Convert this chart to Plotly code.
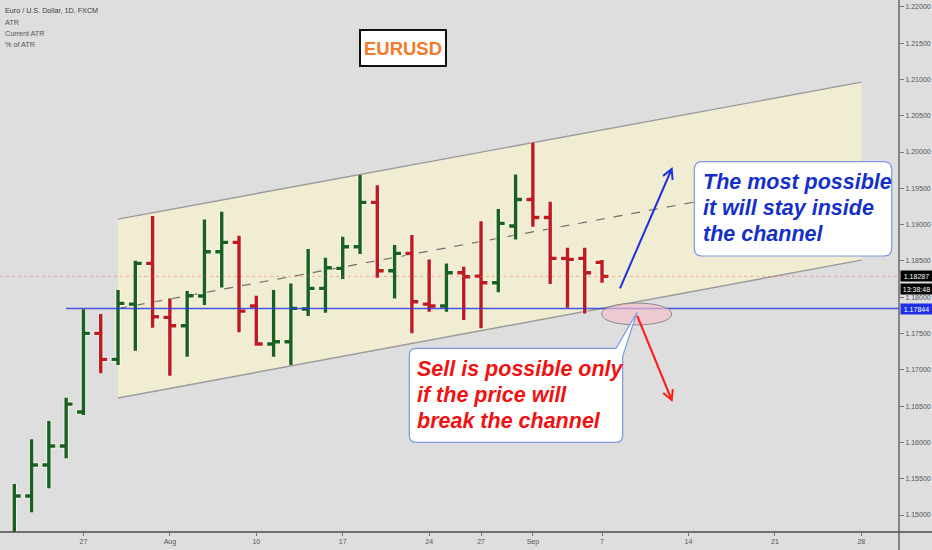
import math
import numpy as np
import plotly.graph_objects as go

# ---------------- data ----------------
dates = ["2020-07-21", "2020-07-22", "2020-07-23", "2020-07-24",
         "2020-07-27", "2020-07-28", "2020-07-29", "2020-07-30", "2020-07-31",
         "2020-08-03", "2020-08-04", "2020-08-05", "2020-08-06", "2020-08-07",
         "2020-08-10", "2020-08-11", "2020-08-12", "2020-08-13", "2020-08-14",
         "2020-08-17", "2020-08-18", "2020-08-19", "2020-08-20", "2020-08-21",
         "2020-08-24", "2020-08-25", "2020-08-26", "2020-08-27", "2020-08-28",
         "2020-08-31", "2020-09-01", "2020-09-02", "2020-09-03", "2020-09-04",
         "2020-09-07"]
opens = [1.14700, 1.15262, 1.15689, 1.15950,
         1.16418, 1.17502, 1.17144, 1.17905, 1.18466,
         1.17722, 1.17607, 1.18016, 1.18626, 1.18755,
         1.17878, 1.17355, 1.17386, 1.17837, 1.18122,
         1.18397, 1.18695, 1.19306, 1.18364, 1.18604,
         1.17905, 1.17878, 1.18337, 1.18291, 1.18199,
         1.18980, 1.19347, 1.19099, 1.18535, 1.18535,
         1.18480]
highs = [1.15427, 1.16042, 1.16294, 1.16615,
         1.17833, 1.17768, 1.18098, 1.18502, 1.19117,
         1.17984, 1.18085, 1.19072, 1.19177, 1.18846,
         1.18020, 1.18098, 1.18190, 1.18663, 1.18543,
         1.18832, 1.19682, 1.19544, 1.18718, 1.18856,
         1.18521, 1.18466, 1.18419, 1.19048, 1.19214,
         1.19691, 1.20132, 1.19314, 1.18681, 1.18681,
         1.18511]
lows = [1.14600, 1.15037, 1.15368, 1.15781,
        1.16377, 1.16951, 1.17066, 1.17262, 1.17579,
        1.16918, 1.17180, 1.17892, 1.18135, 1.17516,
        1.17331, 1.17180, 1.17066, 1.17740, 1.17786,
        1.18250, 1.18594, 1.18268, 1.17984, 1.17502,
        1.17799, 1.17799, 1.17685, 1.17571, 1.18067,
        1.18796, 1.18970, 1.18181, 1.17855, 1.17777,
        1.18199]
closes = [1.15262, 1.15689, 1.15950, 1.16528,
          1.17502, 1.17144, 1.17915, 1.18466, 1.17731,
          1.17607, 1.18020, 1.18626, 1.18755, 1.17809,
          1.17355, 1.17386, 1.17846, 1.18122, 1.18405,
          1.18695, 1.19306, 1.18364, 1.18604, 1.17937,
          1.17878, 1.18337, 1.18282, 1.18199, 1.19017,
          1.19347, 1.19099, 1.18535, 1.18521, 1.18337,
          1.18287]

tick_dates = ["2020-07-27", "2020-08-03", "2020-08-10", "2020-08-17", "2020-08-24",
              "2020-08-27", "2020-09-01", "2020-09-07", "2020-09-14", "2020-09-21",
              "2020-09-28"]
tick_labels = ["27", "Aug", "10", "17", "24", "27", "Sep", "7", "14", "21", "28"]

channel_dates = ["2020-07-29", "2020-09-28"]
channel_top = [1.19076, 1.20962]
channel_bottom = [1.16611, 1.18511]
midline_end_offset = 33.3          # bars the dashed midline runs from channel start

support_level = 1.17844
support_start = "2020-07-24"
last_price = 1.18287
countdown = "13:38:48"

y_ticks = [1.15, 1.155, 1.16, 1.165, 1.17, 1.175, 1.18, 1.185, 1.19, 1.195,
           1.20, 1.205, 1.21, 1.215, 1.22]

BASE = "2020-07-27"


def bidx(d):
    return int(np.busday_count(BASE, d))


x = [bidx(d) for d in dates]
tick_vals = [bidx(d) for d in tick_dates]
ch_x = [bidx(d) for d in channel_dates]

# ---------------- geometry helpers (layout only) ----------------
W, H = 932, 550
ML, MR, MT, MB = 0, 33, 0, 18
PW, PH = W - ML - MR, H - MT - MB
XR = [-4.827, 47.18]
YR = [1.14766, 1.22094]


def P(px, py):
    return f"{px / PW:.5f},{1 - py / PH:.5f}"


def arrow_path(x0, y0, x1, y1, wing=11, ang=28):
    dx, dy = x1 - x0, y1 - y0
    L = math.hypot(dx, dy)
    ux, uy = -dx / L, -dy / L
    pts = []
    for s in (1, -1):
        a = math.radians(ang * s)
        rx = ux * math.cos(a) - uy * math.sin(a)
        ry = ux * math.sin(a) + uy * math.cos(a)
        pts.append((x1 + wing * rx, y1 + wing * ry))
    return (f"M{P(x0, y0)} L{P(x1, y1)} M{P(*pts[0])} L{P(x1, y1)} L{P(*pts[1])}")


def rrect_path(x0, y0, x1, y1, r, tail=None):
    s = f"M{P(x0 + r, y0)} "
    if tail:
        bx, tx, ty, ry = tail
        s += f"L{P(bx, y0)} L{P(tx, ty)} L{P(x1, ry)} "
    else:
        s += f"L{P(x1 - r, y0)} Q{P(x1, y0)} {P(x1, y0 + r)} "
    s += f"L{P(x1, y1 - r)} Q{P(x1, y1)} {P(x1 - r, y1)} "
    s += f"L{P(x0 + r, y1)} Q{P(x0, y1)} {P(x0, y1 - r)} "
    s += f"L{P(x0, y0 + r)} Q{P(x0, y0)} {P(x0 + r, y0)} Z"
    return s


FONT = "Liberation Sans, Arial, sans-serif"
BG = "#dedede"
GREEN = "#1a601e"
RED = "#c0191e"

fig = go.Figure()

# halo + bars
fig.add_trace(go.Ohlc(x=x, open=opens, high=highs, low=lows, close=closes,
                      increasing=dict(line=dict(color="rgba(255,255,255,0.55)", width=5.5)),
                      decreasing=dict(line=dict(color="rgba(255,255,255,0.55)", width=5.5)),
                      tickwidth=0.42, hoverinfo="skip"))
fig.add_trace(go.Ohlc(x=x, open=opens, high=highs, low=lows, close=closes,
                      increasing=dict(line=dict(color=GREEN, width=3.4)),
                      decreasing=dict(line=dict(color=RED, width=3.4)),
                      tickwidth=0.37, hoverinfo="skip"))

# last-price dotted line
fig.add_trace(go.Scatter(x=XR, y=[last_price, last_price], mode="lines",
                         line=dict(color="rgba(235,90,90,0.45)", width=1, dash="dot"),
                         hoverinfo="skip"))
# support line
fig.add_trace(go.Scatter(x=[bidx(support_start), XR[1]], y=[support_level, support_level],
                         mode="lines", line=dict(color="rgba(40,60,225,0.85)", width=1.6),
                         hoverinfo="skip"))

shapes = []
# channel (drawn below the bars)
shapes.append(dict(type="path", xref="x", yref="y", layer="below",
                   path=(f"M{ch_x[0]},{channel_top[0]} L{ch_x[1]},{channel_top[1]} "
                         f"L{ch_x[1]},{channel_bottom[1]} L{ch_x[0]},{channel_bottom[0]} Z"),
                   fillcolor="#f1edd3", line=dict(width=0)))
for yy in (channel_top, channel_bottom):
    shapes.append(dict(type="line", xref="x", yref="y", layer="below",
                       x0=ch_x[0], x1=ch_x[1], y0=yy[0], y1=yy[1],
                       line=dict(color="#9b9b9b", width=1.4)))
slope_t = (channel_top[1] - channel_top[0]) / (ch_x[1] - ch_x[0])
slope_b = (channel_bottom[1] - channel_bottom[0]) / (ch_x[1] - ch_x[0])
mid0 = (channel_top[0] + channel_bottom[0]) / 2
shapes.append(dict(type="line", xref="x", yref="y", layer="below",
                   x0=ch_x[0], x1=ch_x[0] + midline_end_offset,
                   y0=mid0, y1=mid0 + midline_end_offset * (slope_t + slope_b) / 2,
                   line=dict(color="#707070", width=1.2, dash="dash")))

# axis lines (extend beyond plot like the source)
shapes.append(dict(type="line", xref="paper", yref="paper", x0=0, x1=W / PW, y0=0, y1=0,
                   line=dict(color="#4a4a4a", width=1.5)))
shapes.append(dict(type="line", xref="paper", yref="paper", x0=1, x1=1, y0=1, y1=-MB / PH,
                   line=dict(color="#4a4a4a", width=1.2)))
# ellipse
shapes.append(dict(type="path", xref="paper", yref="paper",
                   path=("M" + P(601.7, 314) + " C" + P(601.7, 299.5) + " " + P(671.7, 299.5)
                         + " " + P(671.7, 314) + " C" + P(671.7, 328.5) + " " + P(601.7, 328.5)
                         + " " + P(601.7, 314) + " Z"),
                   fillcolor="rgba(245,190,200,0.65)", line=dict(color="#8a8a8a", width=1)))
# callouts
shapes.append(dict(type="path", xref="paper", yref="paper",
                   path=rrect_path(694.3, 161.7, 891.7, 256, 8),
                   fillcolor="white", line=dict(color="#7b98e0", width=1.2)))
shapes.append(dict(type="path", xref="paper", yref="paper",
                   path=rrect_path(409.3, 348.3, 622.7, 442.3, 7, tail=(616, 637, 312.5, 356)),
                   fillcolor="white", line=dict(color="#7b98e0", width=1.2)))
# arrows
shapes.append(dict(type="path", xref="paper", yref="paper",
                   path=arrow_path(620, 288.3, 671.7, 169), line=dict(color="#1f2fe0", width=2)))
shapes.append(dict(type="path", xref="paper", yref="paper",
                   path=arrow_path(637.3, 316, 671.7, 400), line=dict(color="#ff1a1a", width=2)))

ann = []


def txt(px, py, s, size, color, **kw):
    d = dict(xref="paper", yref="paper", x=px / PW, y=1 - py / PH, text=s, showarrow=False,
             xanchor="left", yanchor="middle", align="left",
             font=dict(family=FONT, size=size, color=color))
    d.update(kw)
    ann.append(d)


# legend header
txt(3, 11, "Euro / U.S. Dollar, 1D, FXCM", 7.2, "#404040")
txt(3, 22.5, "ATR", 7.2, "#555555")
txt(3, 33.7, "Current ATR", 7.2, "#555555")
txt(3, 44.7, "% of ATR", 7.2, "#555555")

# title box
ann.append(dict(xref="paper", yref="paper", x=402.5 / PW, y=1 - 47.5 / PH, text="<b>EURUSD</b>",
                showarrow=False, xanchor="center", yanchor="middle",
                font=dict(family=FONT, size=18.5, color="#f47a2a"),
                bgcolor="white", bordercolor="#111111", borderwidth=2, borderpad=0,
                width=84, height=34))

# callout texts
BLUE_T = "#1530c8"
RED_T = "#f01212"
for i, line in enumerate(["The most possible", "it will stay inside", "the channel"]):
    txt(701, 182 + i * 26, line, 21.5, BLUE_T)
    ann[-1]["font"].update(weight="bold", style="italic")
for i, line in enumerate(["Sell is possible only", "if the price will", "break the channel"]):
    txt(415, 368.5 + i * 26, line, 21.5, RED_T)
    ann[-1]["font"].update(weight="bold", style="italic")

# price labels on the right scale
for yv, s, bg in [(last_price, f"{last_price:.5f}", "#000000"),
                  (last_price - 13 * (YR[1] - YR[0]) / PH, countdown, "#000000"),
                  (support_level, f"{support_level:.5f}", "#1f2fe8")]:
    ann.append(dict(xref="paper", yref="y", x=1.0015, y=yv, text=s, showarrow=False,
                    xanchor="left", yanchor="middle", bgcolor=bg,
                    font=dict(family=FONT, size=7, color="white"),
                    borderpad=1.5, width=28))

fig.update_layout(
    width=W, height=H, autosize=False,
    margin=dict(l=ML, r=MR, t=MT, b=MB, pad=0),
    paper_bgcolor=BG, plot_bgcolor=BG,
    showlegend=False, hovermode=False,
    shapes=shapes, annotations=ann,
    xaxis=dict(range=XR, tickvals=tick_vals, ticktext=tick_labels, showgrid=False,
               zeroline=False, showline=False, ticks="outside", ticklen=3, tickcolor="#777",
               tickfont=dict(family=FONT, size=7, color="#555555"),
               rangeslider=dict(visible=False), fixedrange=True),
    yaxis=dict(range=YR, side="right", tickvals=y_ticks, tickformat=".5f", showgrid=False,
               zeroline=False, showline=False, ticks="outside", ticklen=4, tickcolor="#777",
               tickfont=dict(family=FONT, size=7, color="#555555"), fixedrange=True),
)

fig.write_html("out.html", config={"displayModeBar": False, "staticPlot": True})
with open("out.html", "r", encoding="utf-8") as f:
    html = f.read()
html = html.replace("<head>", "<head><style>html,body{margin:0;padding:0;background:#dedede;}</style>", 1)
with open("out.html", "w", encoding="utf-8") as f:
    f.write(html)
